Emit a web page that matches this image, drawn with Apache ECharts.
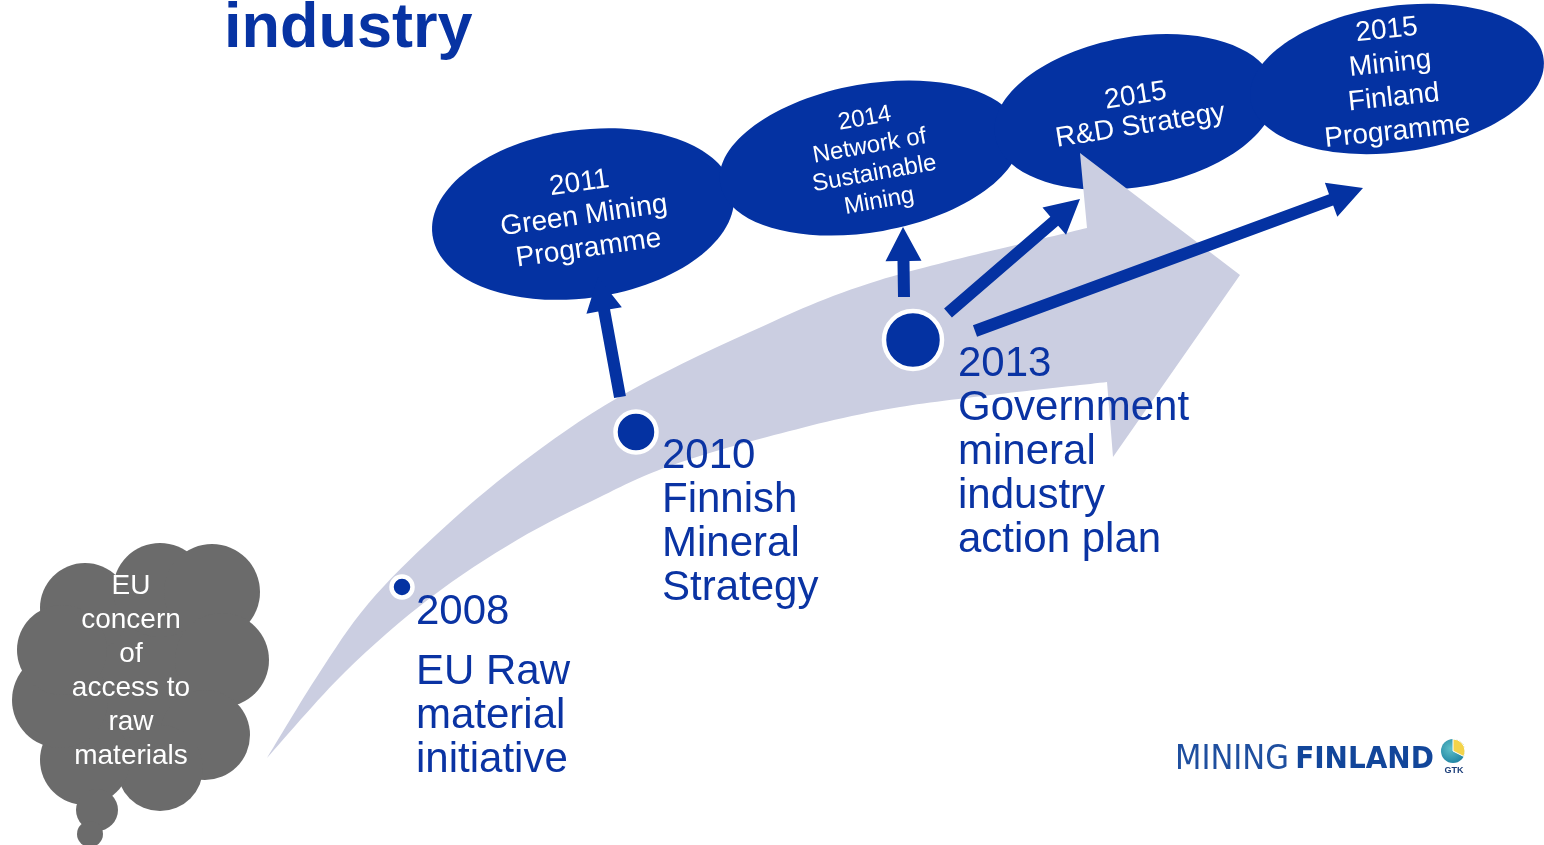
<!DOCTYPE html>
<html><head><meta charset="utf-8">
<script src="https://cdn.jsdelivr.net/npm/echarts@6/dist/echarts.min.js"></script>
<style>html,body{margin:0;padding:0;background:#fff;overflow:hidden}#c{width:1544px;height:845px}</style>
</head><body><div id="c"></div>
<script>
// ---------- data (diagram coordinates, 0..1544 x 0..845) ----------
const titleText = 'industry';
const titleAnchor = [224, 46];

const bandUpper = [[267,758],[318,675],[368,604],[436,535],[520,464],[619,397],[750,332],[880,280],[1087,228]];
const bandHead  = [[1080,153],[1240,275],[1113,457]];
const bandLower = [[267,758],[345,672],[430,598],[517,540],[600,497],[667,467],[767,437],[900,407],[1107,382]];

const cloudBumps = [[140,670,92],[85,608,45],[160,590,47],[212,592,48],[222,660,47],[205,735,45],[160,768,43],[85,760,45],[60,700,48],[62,650,45],[97,810,21],[90,834,13]];
const cloudLines = ['EU','concern','of','access to','raw','materials'];
const cloudTextCenter = [131, 671];

const bubbleLines = [
  ['2011','Green Mining','Programme'],
  ['2014','Network of','Sustainable','Mining'],
  ['2015','R&D Strategy'],
  ['2015','Mining','Finland','Programme']
];
const bubbleCenters = [[583,214],[870,158],[1135,112],[1397,79]];
const bubbleRadii   = [[152,84],[152,74],[142,75],[148,73]];
const bubbleTilt    = [8,10,10,8];
const bubbleTextTilt = [8,10,9,6];
const bubbleTextCenters = [[584,216],[872,160],[1138,111],[1392,81]];

const milestoneYears = ['2008','2010','2013'];
const milestoneDots  = [[402,587],[636,432],[913,340]];
const milestoneDesc  = [['EU Raw','material','initiative'],['Finnish','Mineral','Strategy'],['Government','mineral','industry','action plan']];
const milestoneTextX = [416, 662, 958];
const yearBaselines  = [623, 467, 375];
const descBaselines  = [683, 511, 419];

const arrowLinks = [[[620,397],[598,277]],[[904,297],[903,227]],[[948,313],[1080,199]],[[975,331],[1363,188]]];

const logoAnchor = [1175, 770];
const gtkCenter = [1453, 751];

// ---------- styles ----------
const BLUE = '#0432a2', TXT = '#0a33a3', BAND = '#cbcee1', GRAY = '#6b6b6b';
const FONT = "'Liberation Sans', Arial, Helvetica, sans-serif";
const NARROW = "'Liberation Sans Narrow','DejaVu Sans Condensed','Roboto Condensed','Liberation Sans',sans-serif";
const BASE_K = 0.26;

function crPath(pts, start) {
  let d = (start ? 'M' : 'L') + pts[0][0] + ',' + pts[0][1];
  for (let i = 0; i < pts.length - 1; i++) {
    const p0 = pts[i-1] || pts[i], p1 = pts[i], p2 = pts[i+1], p3 = pts[i+2] || p2;
    const c1 = [p1[0] + (p2[0]-p0[0])/6, p1[1] + (p2[1]-p0[1])/6];
    const c2 = [p2[0] - (p3[0]-p1[0])/6, p2[1] - (p3[1]-p1[1])/6];
    d += 'C' + c1[0] + ',' + c1[1] + ',' + c2[0] + ',' + c2[1] + ',' + p2[0] + ',' + p2[1];
  }
  return d;
}

const chart = echarts.init(document.getElementById('c'), null, {renderer: 'canvas'});
const option = {
  animation: false,
  backgroundColor: '#fff',
  grid: {left: 0, right: 0, top: 0, bottom: 0},
  xAxis: {type: 'value', min: 0, max: 1544, show: false},
  yAxis: {type: 'value', min: 0, max: 845, inverse: true, show: false},
  series: [
    { // bubbles
      type: 'custom', z: 1, silent: true,
      data: bubbleCenters.map((c, i) => [c[0], c[1], i]),
      renderItem: function (params, api) {
        const i = api.value(2);
        const p = api.coord([api.value(0), api.value(1)]);
        const s = api.size(bubbleRadii[i]);
        return {type: 'ellipse', x: p[0], y: p[1], rotation: bubbleTilt[i] * Math.PI / 180,
          shape: {cx: 0, cy: 0, rx: s[0], ry: s[1]}, style: {fill: BLUE}};
      }
    },
    { // big grey arrow
      type: 'custom', z: 2, silent: true, data: [[0, 0]],
      renderItem: function (params, api) {
        const up = bandUpper.map(p => api.coord(p));
        const head = bandHead.map(p => api.coord(p));
        const low = bandLower.slice().reverse().map(p => api.coord(p));
        let d = crPath(up, true);
        head.forEach(h => { d += 'L' + h[0] + ',' + h[1]; });
        d += crPath(low, false) + 'Z';
        return {type: 'path', shape: {pathData: d}, style: {fill: BAND}};
      }
    },
    { // cloud
      type: 'custom', z: 2, silent: true,
      data: cloudBumps,
      renderItem: function (params, api) {
        const p = api.coord([api.value(0), api.value(1)]);
        const r = api.size([api.value(2), api.value(2)])[0];
        return {type: 'circle', shape: {cx: p[0], cy: p[1], r: r}, style: {fill: GRAY}};
      }
    },
    { // cloud text
      type: 'custom', z: 3, silent: true, data: [cloudTextCenter],
      renderItem: function (params, api) {
        const p = api.coord([api.value(0), api.value(1)]);
        return {type: 'text', x: p[0], y: p[1], style: {text: cloudLines.join('\n'), fill: '#fff',
          fontSize: 28, fontFamily: FONT, lineHeight: 34, align: 'center', verticalAlign: 'middle'}};
      }
    },
    { // blue arrows
      type: 'custom', z: 3, silent: true,
      data: arrowLinks.map(a => [a[0][0], a[0][1], a[1][0], a[1][1]]),
      renderItem: function (params, api) {
        const a = api.coord([api.value(0), api.value(1)]);
        const b = api.coord([api.value(2), api.value(3)]);
        const dx = b[0]-a[0], dy = b[1]-a[1], L = Math.hypot(dx, dy);
        const ux = dx/L, uy = dy/L, nx = -uy, ny = ux;
        const hw = 6, hh = 18, hl = 34;
        const bx = b[0]-ux*hl, by = b[1]-uy*hl;
        const pts = [
          [a[0]+nx*hw, a[1]+ny*hw], [bx+nx*hw, by+ny*hw], [bx+nx*hh, by+ny*hh], [b[0], b[1]],
          [bx-nx*hh, by-ny*hh], [bx-nx*hw, by-ny*hw], [a[0]-nx*hw, a[1]-ny*hw]
        ];
        return {type: 'polygon', shape: {points: pts}, style: {fill: BLUE}};
      }
    },
    { // milestone dots
      type: 'scatter', z: 4, silent: true,
      data: milestoneDots,
      symbol: 'circle',
      symbolSize: function (v, p) { return [21, 41, 58][p.dataIndex]; },
      itemStyle: {color: BLUE, borderColor: '#fff', borderWidth: 4.5, opacity: 1}
    },
    { // milestone labels
      type: 'custom', z: 5, silent: true,
      data: milestoneDots.map((d, i) => [milestoneTextX[i], yearBaselines[i], descBaselines[i], i]),
      renderItem: function (params, api) {
        const i = api.value(3);
        const fs = 42, lh = 44, off = lh/2 + BASE_K*fs;
        const y1 = api.coord([api.value(0), api.value(1) - off]);
        const y2 = api.coord([api.value(0), api.value(2) - off]);
        return {type: 'group', children: [
          {type: 'text', x: y1[0], y: y1[1], style: {text: milestoneYears[i], fill: TXT, fontSize: fs, fontFamily: FONT, lineHeight: lh, align: 'left', verticalAlign: 'top'}},
          {type: 'text', x: y2[0], y: y2[1], style: {text: milestoneDesc[i].join('\n'), fill: TXT, fontSize: fs, fontFamily: FONT, lineHeight: lh, align: 'left', verticalAlign: 'top'}}
        ]};
      }
    },
    { // bubble texts
      type: 'custom', z: 6, silent: true,
      data: bubbleTextCenters.map((c, i) => [c[0], c[1], i]),
      renderItem: function (params, api) {
        const i = api.value(2);
        const p = api.coord([api.value(0), api.value(1)]);
        const fs = i === 1 ? 24 : 28, lh = [33, 28, 30, 34][i];
        return {type: 'text', x: p[0], y: p[1], rotation: bubbleTextTilt[i] * Math.PI / 180,
          style: {text: bubbleLines[i].join('\n'), fill: '#fff', fontSize: fs, fontFamily: FONT,
            lineHeight: lh, align: 'center', verticalAlign: 'middle'}};
      }
    },
    { // title
      type: 'custom', z: 6, silent: true, data: [titleAnchor],
      renderItem: function (params, api) {
        const p = api.coord([api.value(0), api.value(1) - BASE_K*63]);
        return {type: 'text', x: p[0], y: p[1], style: {text: titleText, fill: '#0733a3', fontSize: 63,
          fontWeight: 'bold', fontFamily: FONT, align: 'left', verticalAlign: 'middle'}};
      }
    },
    { // logo
      type: 'custom', z: 6, silent: true, data: [[logoAnchor[0], logoAnchor[1], gtkCenter[0], gtkCenter[1]]],
      renderItem: function (params, api) {
        const p = api.coord([api.value(0), api.value(1) - 0.3*34]);
        const g = api.coord([api.value(2), api.value(3)]);
        const r = 12;
        return {type: 'group', children: [
          {type: 'text', x: p[0], y: p[1], style: {
            text: '{a|MINING}{s| }{b|FINLAND}', fill: '#1d4c9c', align: 'left', verticalAlign: 'middle',
            rich: {
              a: {fontSize: 34, fontFamily: NARROW, fill: '#1f4f9f'},
              s: {fontSize: 22, fontFamily: NARROW},
              b: {fontSize: 31, fontWeight: 'bold', fontFamily: NARROW, fill: '#12469a'}
            }}},
          {type: 'circle', shape: {cx: g[0], cy: g[1], r: r}, style: {fill: new echarts.graphic.RadialGradient(0.4, 0.4, 0.7, [{offset: 0, color: '#5fc0c8'}, {offset: 1, color: '#1a7fa0'}])}},
          {type: 'sector', shape: {cx: g[0], cy: g[1], r: r, r0: 0, startAngle: -Math.PI*0.5, endAngle: Math.PI*0.15, clockwise: true}, style: {fill: '#f3d34a', stroke: '#fff', lineWidth: 1}},
          {type: 'text', x: g[0] + 1, y: g[1] + 20, style: {text: 'GTK', fill: '#1d3f7a', fontSize: 9, fontWeight: 'bold', fontFamily: FONT, align: 'center', verticalAlign: 'middle'}}
        ]};
      }
    }
  ]
};
chart.setOption(option);
</script>
</body></html>
